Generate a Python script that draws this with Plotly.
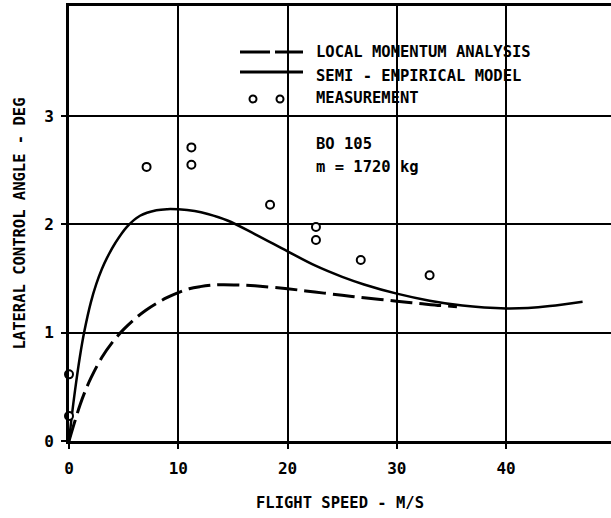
import plotly.graph_objects as go

# Data
speed_semi = [0, 0.25, 0.55, 1, 1.4, 2, 2.5, 3, 3.5, 4.25, 5.3, 6.5, 8, 9, 10, 11.5, 12.7, 14.5, 17, 20, 22.5, 25, 27, 30, 33, 36, 38, 40, 42, 44, 47]
angle_semi = [0, 0.225, 0.465, 0.78, 1.01, 1.28, 1.45, 1.585, 1.695, 1.83, 1.977, 2.079, 2.13, 2.14, 2.138, 2.122, 2.095, 2.035, 1.91, 1.75, 1.62, 1.515, 1.445, 1.36, 1.295, 1.25, 1.232, 1.224, 1.228, 1.245, 1.285]

speed_local = [0, 0.5, 1, 1.5, 2, 3, 4, 5, 6, 7, 8, 9, 10, 11, 12, 13, 14, 15.5, 17, 20, 22.5, 25, 27, 30, 32, 34, 35.5]
angle_local = [0, 0.17, 0.33, 0.465, 0.58, 0.77, 0.915, 1.03, 1.125, 1.205, 1.27, 1.325, 1.37, 1.405, 1.425, 1.438, 1.443, 1.44, 1.432, 1.405, 1.375, 1.345, 1.322, 1.29, 1.27, 1.25, 1.24]

speed_meas = [0, 0, 7.1, 11.2, 11.2, 18.4, 22.6, 22.6, 26.7, 33.0]
angle_meas = [0.615, 0.23, 2.53, 2.71, 2.55, 2.18, 1.975, 1.855, 1.67, 1.53]

x_ticks = [0, 10, 20, 30, 40]
y_ticks = [0, 1, 2, 3]

legend_labels = ["LOCAL MOMENTUM ANALYSIS", "SEMI - EMPIRICAL MODEL", "MEASUREMENT"]
note_lines = ["BO 105", "m = 1720 kg"]

FONT = "DejaVu Sans Mono, Liberation Mono, monospace"
TXT = dict(family=FONT, size=15.5, color="black", weight="bold")
TICK = dict(family=FONT, size=16, color="black", weight="bold")

fig = go.Figure()
fig.add_trace(go.Scatter(x=speed_local, y=angle_local, mode="lines", line_shape="spline",
                         line=dict(color="black", width=3, dash="22px,7px"), showlegend=False))
fig.add_trace(go.Scatter(x=speed_semi, y=angle_semi, mode="lines", line_shape="spline",
                         line=dict(color="black", width=2.5), showlegend=False))
fig.add_trace(go.Scatter(x=speed_meas, y=angle_meas, mode="markers", cliponaxis=False,
                         marker=dict(symbol="circle", size=8, color="white",
                                     line=dict(color="black", width=2)),
                         showlegend=False))

# Legend drawn as in the original figure (pixel positions -> paper fractions)
W, H = 611, 518
L, R, T, B = 69, 0, 6, 77
pw, ph = W - L - R, H - T - B

def px(xp):
    return (xp - L) / pw

def py(yp):
    return 1 - (yp - T) / ph

fig.add_shape(type="line", xref="paper", yref="paper", x0=px(240), x1=px(303), y0=py(52), y1=py(52),
              line=dict(color="black", width=3, dash="30px,5px"))
fig.add_shape(type="line", xref="paper", yref="paper", x0=px(240), x1=px(303), y0=py(72), y1=py(72),
              line=dict(color="black", width=3))
for cx in (253, 280):
    fig.add_shape(type="circle", xref="paper", yref="paper",
                  x0=px(cx - 3.5), x1=px(cx + 3.5), y0=py(99 + 3.5), y1=py(99 - 3.5),
                  line=dict(color="black", width=2), fillcolor="white")
for lbl, yp in zip(legend_labels, (52, 76, 98)):
    fig.add_annotation(xref="paper", yref="paper", x=px(314), y=py(yp), text=lbl, showarrow=False,
                       xanchor="left", yanchor="middle", font=TXT)
for lbl, yp in zip(note_lines, (144, 167)):
    fig.add_annotation(xref="paper", yref="paper", x=px(314), y=py(yp), text=lbl, showarrow=False,
                       xanchor="left", yanchor="middle", font=TXT)

fig.update_layout(
    width=W, height=H,
    margin=dict(l=L, r=R, t=T, b=B, pad=0),
    paper_bgcolor="white", plot_bgcolor="white",
    font=TXT,
    showlegend=False,
)
fig.update_xaxes(range=[0, 49.6], tickvals=x_ticks, ticks="outside", ticklen=5, tickwidth=2,
                 tickcolor="black", showline=True, linewidth=3, linecolor="black", mirror=True,
                 showgrid=True, gridcolor="black", gridwidth=1.5, zeroline=False,
                 ticklabelstandoff=6, tickfont=TICK,
                 title=dict(text="FLIGHT SPEED - M/S", standoff=20, font=TXT))
fig.update_yaxes(range=[0, 4.015], tickvals=y_ticks, ticks="outside", ticklen=5, tickwidth=2,
                 tickcolor="black", showline=True, linewidth=3, linecolor="black", mirror=False,
                 showgrid=True, gridcolor="black", gridwidth=1.5, zeroline=False,
                 ticklabelstandoff=4, tickfont=TICK,
                 title=dict(text="LATERAL CONTROL ANGLE - DEG", standoff=15, font=TXT))

fig.write_html("out.html")
